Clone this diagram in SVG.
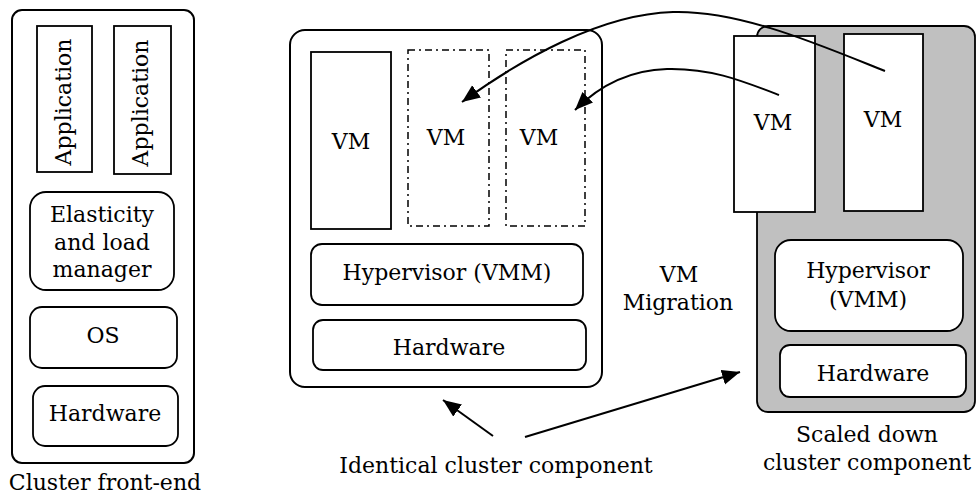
<svg xmlns="http://www.w3.org/2000/svg" width="976" height="495" viewBox="0 0 976 495">
  <defs>
    <marker id="head" markerUnits="userSpaceOnUse" markerWidth="20" markerHeight="16" refX="18" refY="7.5" orient="auto">
      <path d="M0,0 L18,7.5 L0,15 Z" fill="#000"/>
    </marker>
    <style>
      text { font-family: "DejaVu Serif", "Liberation Serif", serif; font-size: 22px; fill: #000; text-anchor: middle; }
      .frame { fill: #fff; stroke: #000; stroke-width: 2; }
      .box { fill: #fff; stroke: #000; stroke-width: 1.8; }
      .ghost { fill: none; stroke: #000; stroke-width: 1.5; stroke-dasharray: 7 4 2 4; }
      .shaded { fill: #c0c0c0; stroke: #000; stroke-width: 1.8; }
      .link { fill: none; stroke: #000; stroke-width: 2; }
    </style>
  </defs>
  <rect width="976" height="495" fill="#fff"/>

  <!-- Front-end node -->
  <g id="front-end">
    <rect class="frame" x="12" y="10" width="182" height="453" rx="10"/>
    <rect class="box" x="37" y="26" width="55" height="146"/>
    <text transform="translate(71,102) rotate(-90)">Application</text>
    <rect class="box" x="114" y="26" width="57" height="148"/>
    <text transform="translate(148,103) rotate(-90)">Application</text>
    <rect class="box" x="30" y="192" width="144" height="98" rx="16"/>
    <text x="102" y="222">Elasticity</text>
    <text x="102" y="250">and load</text>
    <text x="102" y="277">manager</text>
    <rect class="box" x="30" y="307" width="147" height="61" rx="12"/>
    <text x="103" y="343">OS</text>
    <rect class="box" x="33" y="386" width="145" height="60" rx="12"/>
    <text x="105" y="421">Hardware</text>
    <text x="105" y="490">Cluster front-end</text>
  </g>

  <!-- Identical cluster component -->
  <g id="identical-node">
    <rect class="frame" x="290" y="30" width="312" height="357" rx="15"/>
    <rect class="box" x="311" y="52" width="80" height="177"/>
    <text x="351" y="149">VM</text>
    <rect class="ghost" x="408" y="50" width="81" height="176"/>
    <text x="446" y="145">VM</text>
    <rect class="ghost" x="506" y="50" width="79" height="176"/>
    <text x="539" y="145">VM</text>
    <rect class="box" x="311" y="244" width="272" height="61" rx="11"/>
    <text x="447" y="280">Hypervisor (VMM)</text>
    <rect class="box" x="313" y="320" width="273" height="50" rx="10"/>
    <text x="449" y="355">Hardware</text>
  </g>

  <!-- Scaled down cluster component -->
  <g id="scaled-node">
    <rect class="shaded" x="757" y="26" width="218" height="386" rx="11"/>
    <rect class="box" x="734" y="36" width="81" height="176"/>
    <text x="773" y="130">VM</text>
    <rect class="box" x="844" y="34" width="79" height="177"/>
    <text x="883" y="127">VM</text>
    <rect class="box" x="775" y="240" width="188" height="91" rx="16"/>
    <text x="868" y="278">Hypervisor</text>
    <text x="868" y="307">(VMM)</text>
    <rect class="box" x="780" y="345" width="186" height="52" rx="10"/>
    <text x="873" y="381">Hardware</text>
    <text x="867" y="442">Scaled down</text>
    <text x="867" y="470">cluster component</text>
  </g>

  <!-- Labels -->
  <g id="migration-label">
    <text x="679" y="282">VM</text>
    <text x="678" y="310">Migration</text>
  </g>
  <g id="identical-label">
    <text x="496" y="473">Identical cluster component</text>
  </g>

  <!-- Connectors -->
  <g id="connectors">
    <path class="link" d="M885,71 C820,45 740,10 673,12 C600,14 520,60 462,102" marker-end="url(#head)"/>
    <path class="link" d="M779,95 C740,80 710,68 667,69 C630,70 600,85 575,110" marker-end="url(#head)"/>
    <path class="link" d="M493,436 L443,400" marker-end="url(#head)"/>
    <path class="link" d="M525,437 L740,372" marker-end="url(#head)"/>
  </g>
</svg>
